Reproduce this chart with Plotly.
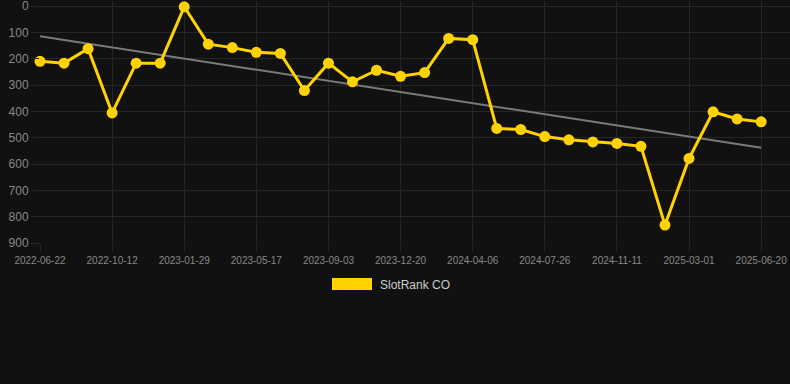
import numpy as np
import plotly.graph_objects as go

dates = [
    "2022-06-22", "2022-07-29", "2022-09-04", "2022-10-12", "2022-11-17", "2022-12-23",
    "2023-01-29", "2023-03-06", "2023-04-11", "2023-05-17", "2023-06-23", "2023-07-29",
    "2023-09-03", "2023-10-09", "2023-11-14", "2023-12-20", "2024-01-25", "2024-03-01",
    "2024-04-06", "2024-05-13", "2024-06-19", "2024-07-26", "2024-08-31", "2024-10-06",
    "2024-11-11", "2024-12-18", "2025-01-23", "2025-03-01", "2025-04-07", "2025-05-14",
    "2025-06-20",
]
ranks = [
    210, 217, 162, 406, 217, 217, 3, 145, 158, 176, 180, 321, 217, 288, 244, 267,
    253, 123, 128, 465, 469, 496, 508, 516, 522, 533, 832, 579, 402, 429, 440,
]
tick_labels = dates[::3]
y_ticks = [0, 100, 200, 300, 400, 500, 600, 700, 800, 900]
series_name = "SlotRank CO"

idx = np.arange(len(ranks))
slope, intercept = np.polyfit(idx, ranks, 1)
trend = [intercept + slope * i for i in idx]

BG = "#111111"
GRID = "#262626"
TICK = "#888888"
GOLD = "#FFD200"

fig = go.Figure()
fig.add_trace(go.Scatter(
    x=dates, y=trend, mode="lines",
    line=dict(color="#7a7a7a", width=2),
    hoverinfo="skip", showlegend=False, cliponaxis=False,
))
fig.add_trace(go.Scatter(
    x=dates, y=ranks, mode="lines+markers", name=series_name,
    line=dict(color=GOLD, width=3),
    marker=dict(color=GOLD, size=11),
    showlegend=False, cliponaxis=False,
))

top_px = 1
plot_h = 243 - top_px
y_top = -(6 - top_px) * 900 / (243 - 6)

fig.update_layout(
    width=790, height=384,
    margin=dict(l=40, r=0, t=top_px, b=141),
    paper_bgcolor=BG, plot_bgcolor=BG,
    font=dict(family="Liberation Sans, Arial, sans-serif", color=TICK),
    xaxis=dict(
        type="category", range=[0, 31.2],
        tickmode="array", tickvals=tick_labels, ticktext=tick_labels,
        tickfont=dict(size=10, color=TICK),
        showgrid=True, gridcolor=GRID, gridwidth=1,
        ticks="outside", ticklen=8, tickcolor=GRID,
        zeroline=False, showline=False,
        ticklabeloverflow="allow",
    ),
    yaxis=dict(
        range=[900, y_top], tickmode="array", tickvals=y_ticks,
        ticktext=[str(v) for v in y_ticks],
        tickfont=dict(size=12, color=TICK),
        showgrid=True, gridcolor=GRID, gridwidth=1,
        ticks="outside", ticklen=8, tickcolor=GRID,
        zeroline=False, showline=False,
        ticklabeloverflow="allow",
    ),
    shapes=[dict(
        type="rect", xref="paper", yref="paper",
        x0=(332 - 40) / 750, x1=(372 - 40) / 750,
        y0=(243 - 290) / plot_h, y1=(243 - 278) / plot_h,
        fillcolor=GOLD, line=dict(width=0),
    )],
    annotations=[dict(
        xref="paper", yref="paper",
        x=(378 - 40) / 750, y=(243 - 284.5) / plot_h,
        xanchor="left", yanchor="middle", showarrow=False,
        text=series_name, font=dict(size=12, color="#cccccc"),
    )],
)

fig.write_html(
    "out.html",
    config={"displayModeBar": False},
    post_script="document.body.style.margin='0';document.body.style.background='#111111';",
)
